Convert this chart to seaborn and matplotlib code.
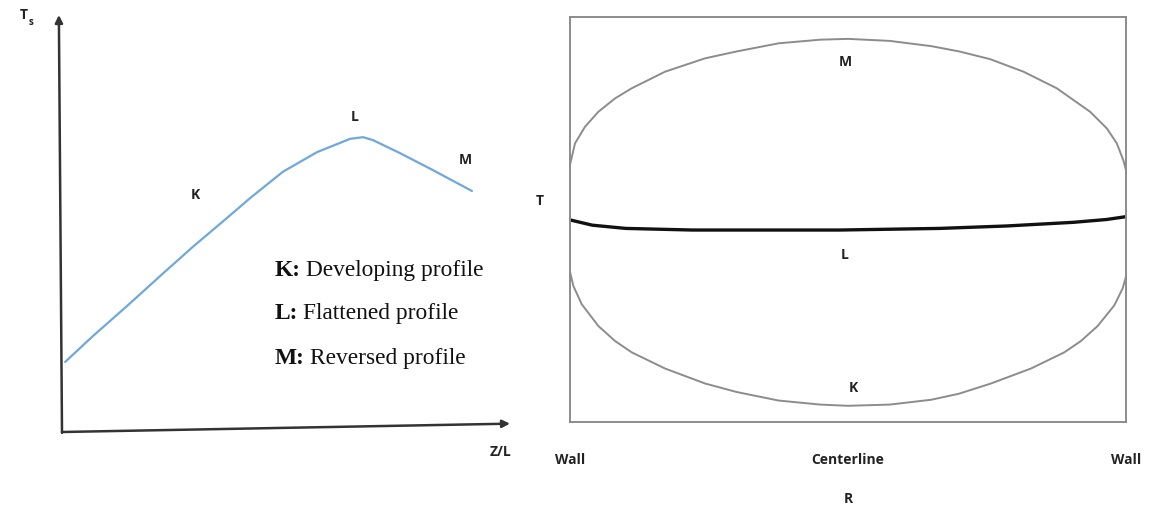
import pandas as pd
import matplotlib
matplotlib.use("Agg")
import matplotlib.pyplot as plt
import seaborn as sns

# left panel: surface temperature along the duct
z_over_l = [0.007, 0.069, 0.145, 0.219, 0.292, 0.368, 0.420, 0.493, 0.569, 0.643,
            0.672, 0.694, 0.754, 0.828, 0.915]
ts_vals = [0.168, 0.230, 0.302, 0.374, 0.444, 0.513, 0.561, 0.624, 0.671, 0.703,
           0.707, 0.700, 0.669, 0.628, 0.578]

# right panel: radial temperature profiles, wall (-1) -> centerline (0) -> wall (1)
m_r = [-1.0, -0.982, -0.946, -0.898, -0.838, -0.778, -0.658, -0.514, -0.40, -0.25, -0.10, 0.0,
       0.15, 0.30, 0.40, 0.511, 0.631, 0.751, 0.871, 0.931, 0.967, 0.990, 1.0]
m_t = [0.635, 0.688, 0.729, 0.766, 0.799, 0.824, 0.865, 0.898, 0.915, 0.935, 0.944, 0.946,
       0.941, 0.928, 0.915, 0.896, 0.865, 0.824, 0.766, 0.725, 0.688, 0.647, 0.622]
l_r = [-1.0, -0.92, -0.80, -0.56, -0.03, 0.33, 0.57, 0.81, 0.93, 1.0]
l_t = [0.499, 0.486, 0.478, 0.474, 0.474, 0.478, 0.484, 0.493, 0.500, 0.507]
k_r = [-1.0, -0.988, -0.958, -0.898, -0.838, -0.778, -0.658, -0.514, -0.40, -0.25, -0.10, 0.0,
       0.15, 0.30, 0.40, 0.514, 0.658, 0.778, 0.838, 0.898, 0.958, 0.988, 1.0]
k_t = [0.371, 0.336, 0.291, 0.237, 0.200, 0.172, 0.132, 0.095, 0.074, 0.053, 0.043, 0.040,
       0.043, 0.055, 0.070, 0.095, 0.132, 0.172, 0.200, 0.237, 0.288, 0.330, 0.359]

legend_items = [("K:", "Developing profile"), ("L:", "Flattened profile"), ("M:", "Reversed profile")]
wall_ticks = ["Wall", "Centerline", "Wall"]

sns.set_theme(style="white")
plt.rcParams["font.family"] = ["Open Sans", "DejaVu Sans"]

fig = plt.figure(figsize=(11.52, 5.08), dpi=100)

lab = dict(fontsize=10, fontweight="bold", color="#222222", ha="center", va="center")

# ---- left: Ts vs Z/L
ax1 = fig.add_axes([62 / 1152, 76 / 508, 448 / 1152, 417 / 508])
left_df = pd.DataFrame({"z": z_over_l, "ts": ts_vals})
sns.lineplot(data=left_df, x="z", y="ts", sort=False, ax=ax1, color="#6fa8dc", lw=1.6)
ax1.set_xlim(0, 1)
ax1.set_ylim(0, 1)
ax1.axis("off")
arrow = dict(arrowstyle="-|>", color="#333333", lw=1.8, mutation_scale=11, shrinkA=0, shrinkB=0)
ax1.annotate("", xy=(-0.007, 1.0), xytext=(0, -0.002), arrowprops=arrow, annotation_clip=False)
ax1.annotate("", xy=(1.0, 0.02), xytext=(0, 0), arrowprops=arrow, annotation_clip=False)
ax1.text(-0.086, 1.0, "T", **lab)
ax1.text(-0.070, 0.982, "s", fontsize=7, fontweight="bold", color="#222222", ha="center", va="center")
ax1.text(0.978, -0.048, "Z/L", **lab)
ax1.text(0.297, 0.568, "K", **lab)
ax1.text(0.654, 0.755, "L", **lab)
ax1.text(0.90, 0.652, "M", **lab)

serif = ["Liberation Serif", "DejaVu Serif"]
for (head, rest), y in zip(legend_items, [0.388, 0.285, 0.177]):
    t = ax1.text(0.475, y, head, family=serif, fontsize=16.8, fontweight="bold",
                 color="#111111", va="center", ha="left")
    ax1.annotate(rest, xy=(1, 0), xycoords=t, xytext=(3.5, 0), textcoords="offset points",
                 va="bottom", ha="left", family=serif, fontsize=16.8, color="#111111")

# ---- right: T vs R
ax2 = fig.add_axes([570 / 1152, 86 / 508, 556 / 1152, 405 / 508])
sns.lineplot(x=m_r, y=m_t, sort=False, ax=ax2, color="#8c8c8c", lw=1.4)
sns.lineplot(x=k_r, y=k_t, sort=False, ax=ax2, color="#8c8c8c", lw=1.4)
sns.lineplot(x=l_r, y=l_t, sort=False, ax=ax2, color="#111111", lw=2.4)
ax2.set_xlim(-1, 1)
ax2.set_ylim(0, 1)
for sp in ax2.spines.values():
    sp.set_color("#8c8c8c")
    sp.set_linewidth(1.4)
ax2.set_yticks([])
ax2.set_xticks([-1, 0, 1])
ax2.set_xticklabels(wall_ticks, fontsize=10, fontweight="bold", color="#222222")
ax2.tick_params(axis="x", length=0, pad=22)
ax2.set_xlabel("R", fontsize=10, fontweight="bold", color="#222222")
ax2.xaxis.set_label_coords(0.5, -0.173)
ax2.set_ylabel("T", fontsize=10, fontweight="bold", color="#222222", rotation=0)
ax2.yaxis.set_label_coords(-0.054, 0.528)
ax2.text(-0.011, 0.889, "M", **lab)
ax2.text(-0.011, 0.412, "L", **lab)
ax2.text(0.018, 0.084, "K", **lab)

fig.savefig("out.png", dpi=100)
